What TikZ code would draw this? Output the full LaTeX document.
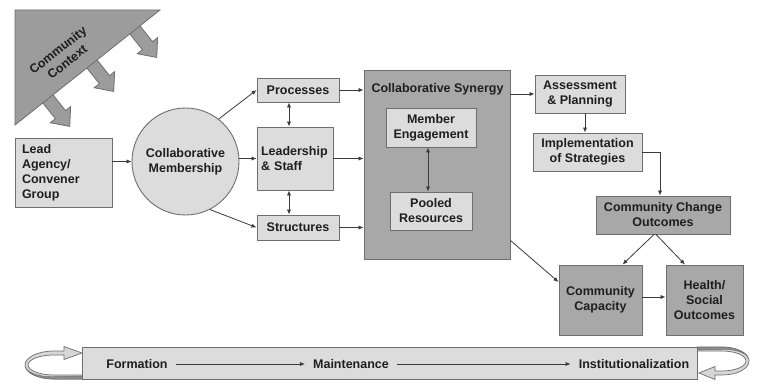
\documentclass[tikz,border=0pt]{standalone}
\usepackage{fontspec}
\setmainfont{Liberation Sans}
\usetikzlibrary{arrows.meta}
\definecolor{boxlight}{HTML}{DCDCDC}
\definecolor{boxdark}{HTML}{A8A8A8}
\definecolor{edge}{HTML}{6E6E6E}
\definecolor{ink}{HTML}{1E1E1E}
\definecolor{wire}{HTML}{3A3A3A}
\definecolor{ctx}{HTML}{9C9C9C}
\definecolor{ribbon}{HTML}{D6D6D6}
\definecolor{ribbonside}{HTML}{8C8C8C}

\begin{document}
\begin{tikzpicture}[x=1pt,y=1pt,
  font=\fontsize{12.5}{15}\selectfont\bfseries,
  box/.style={draw=edge, line width=0.9pt, fill=boxlight, text=ink, align=center, inner sep=2pt},
  darkbox/.style={box, fill=boxdark},
  tip/.tip={Latex[length=5pt,width=4.2pt]},
  link/.style={draw=wire, line width=0.8pt, -tip},
  both/.style={draw=wire, line width=0.8pt, tip-tip},
  ctxarrow/.style={draw=edge, line width=0.8pt, fill=ctx},
  curl/.style={draw=edge, line width=0.7pt, fill=ribbon},
  curlside/.style={draw=edge, line width=0.5pt, fill=ribbonside},
  stage/.style={text=ink, inner xsep=8pt}]

\useasboundingbox (0,0) rectangle (757,386);

% community context: arrows pushing out of the triangle's long side
\foreach \bx/\by in {48/287, 92/322, 135/356}{
  \begin{scope}[shift={(\bx,\by)}, rotate=-51.6]
    \filldraw[ctxarrow] (-4,-6.5) -- (20,-6.5) -- (20,-13) -- (35,0) -- (20,13) -- (20,6.5) -- (-4,6.5) -- cycle;
  \end{scope}
}
\filldraw[draw=edge, line width=0.8pt, fill=ctx] (15,376) -- (160,376) -- (15,261) -- cycle;
\node[rotate=38.4, align=center, text=ink, inner sep=0pt] (ctxlabel) at (62.5,330) {Community\\Context};

% left column
\node[box, text width=83pt, inner xsep=7pt, minimum height=69pt, align=left] (lead) at (63.5,213.5)
  {Lead\\Agency/\\Convener\\Group};
\node[circle, draw=edge, line width=0.9pt, fill=boxlight, text=ink, align=center,
  minimum size=107pt, inner sep=0pt] (circ) at (185.5,224.5) {Collaborative\\Membership};

% middle column
\node[box, minimum width=82pt, minimum height=24pt] (proc) at (298,296) {Processes};
\node[box, text width=68pt, inner xsep=4pt, minimum height=63pt, align=left] (lship) at (295,227.5)
  {Leadership\\\& Staff};
\node[box, minimum width=82pt, minimum height=25pt] (struct) at (298,158.5) {Structures};

% collaborative synergy
\node[darkbox, minimum width=146pt, minimum height=189pt] (syn) at (437,221.5) {};
\node[text=ink, inner sep=0pt] (syntitle) at (437.5,297) {Collaborative Synergy};
\node[box, minimum width=90pt, minimum height=39pt] (meng) at (431,258.5) {Member\\Engagement};
\node[box, minimum width=82pt, minimum height=38pt] (pool) at (431,175) {Pooled\\Resources};

% right column
\node[box, minimum width=90pt, minimum height=38pt] (assess) at (580,292) {Assessment\\\& Planning};
\node[box, minimum width=109pt, minimum height=38pt] (impl) at (587.5,234) {Implementation\\of Strategies};
\node[darkbox, minimum width=134pt, minimum height=38pt] (cco) at (663,171) {Community Change\\Outcomes};
\node[darkbox, minimum width=83pt, minimum height=70pt] (cap) at (600.5,86) {Community\\Capacity};
\node[darkbox, minimum width=77pt, minimum height=70pt] (health) at (704.5,86) {Health/\\Social\\Outcomes};

% connectors
\draw[link] (lead.east |- circ.west) -- (circ.west);
\draw[link] (circ.52) -- (proc.west);
\draw[link] (circ.east |- lship.west) -- (lship.west);
\draw[link] (circ.-63) -- (struct.west);
\draw[both] ([xshift=-9pt]proc.south) -- ([xshift=-9pt]proc.south |- lship.north);
\draw[both] ([xshift=-6pt]lship.south) -- ([xshift=-6pt]lship.south |- struct.north);
\draw[link] (proc.east) -- (proc.east -| syn.west);
\draw[link] (lship.east) -- (lship.east -| syn.west);
\draw[link] (struct.east) -- (struct.east -| syn.west);
\draw[both] ([xshift=-3pt]meng.south) -- ([xshift=-3pt]meng.south |- pool.north);
\draw[link] (syn.east |- assess.west) -- (assess.west);
\draw[link] ([xshift=5pt]assess.south) -- ([xshift=5pt]assess.south |- impl.north);
\draw[link] (impl.east) -| ([xshift=-3pt]cco.north);
\draw[link] ([xshift=-9pt]cco.south) -- ([xshift=22pt]cap.north);
\draw[link] ([xshift=-7pt]cco.south) -- ([xshift=-19.5pt]health.north);
\draw[link] ([yshift=3pt]cap.east) -- ([yshift=3pt]cap.east -| health.west);
\draw[link] ([yshift=19pt]syn.south east) -- ([yshift=18pt]cap.west);

% stage bar with its turning ends
\draw[curl] (82,7) -- (54,7) arc[start angle=270, end angle=90, x radius=29, y radius=14]
  -- (64,35) -- (64,39.5) -- (82,33) -- (64,26.5) -- (64,31) -- (54,31)
  arc[start angle=90, end angle=270, x radius=26, y radius=10] -- (82,11) -- cycle;
\draw[curlside] (82,7) -- (54,7) arc[start angle=270, end angle=195, x radius=29, y radius=14]
  arc[start angle=195, end angle=270, x radius=27, y radius=11] -- (82,10) -- cycle;

\draw[curl] (697,39) -- (722,39) arc[start angle=90, end angle=-90, x radius=27, y radius=14]
  -- (715,11) -- (715,6.5) -- (699,13) -- (715,19.5) -- (715,15) -- (722,15)
  arc[start angle=-90, end angle=90, x radius=24, y radius=10] -- (697,35) -- cycle;
\draw[curlside] (697,39) -- (722,39) arc[start angle=90, end angle=15, x radius=27, y radius=14]
  arc[start angle=15, end angle=90, x radius=25, y radius=11] -- (697,36) -- cycle;

\node[box, minimum width=615pt, minimum height=32pt] (bar) at (389.5,23) {};
\node[stage] (form) at (137,22) {Formation};
\node[stage] (maint) at (351,22) {Maintenance};
\node[stage] (inst) at (634,22) {Institutionalization};
\draw[link, line width=0.7pt] (form) -- (maint);
\draw[link, line width=0.7pt] (maint) -- (inst);

\end{tikzpicture}
\end{document}
